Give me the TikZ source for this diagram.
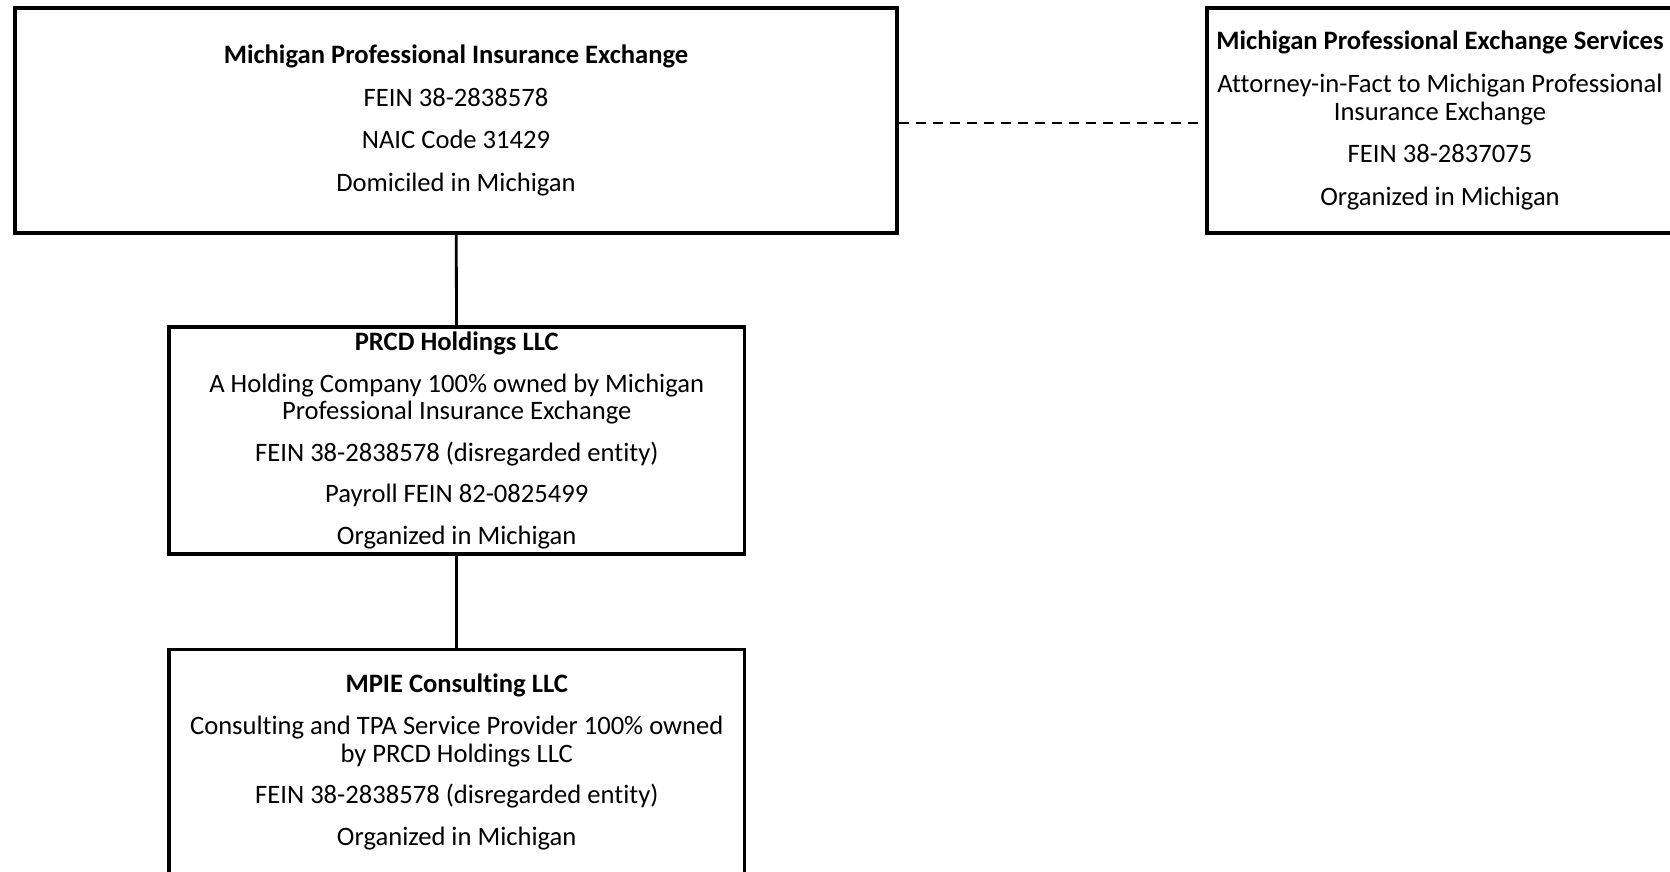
\documentclass[tikz,border=0pt]{standalone}
\usepackage{fontspec}
\setmainfont{Carlito}[Ligatures=NoCommon]
\begin{document}
\begin{tikzpicture}[x=0.5pt,y=-0.5pt,
  entity/.style={draw,line width=1.8pt,align=center,inner sep=0pt,minimum height=112.5pt,font=\fontsize{13.3}{13.8}\selectfont},
  link/.style={line width=1.4pt}]
\useasboundingbox (0,0) rectangle (1670,872);
\node[entity,minimum width=441pt] (MPIE) at (456,120.5) {\textbf{Michigan Professional Insurance Exchange}\\[7.5pt] FEIN 38-2838578\\[7.5pt] NAIC Code 31429\\[7.5pt] Domiciled in Michigan};
\node[entity,minimum width=233pt] (MPES) at (1440,120.5) {\textbf{Michigan Professional Exchange Services}\\[7.5pt] Attorney-in-Fact to Michigan Professional\\ Insurance Exchange\\[7.5pt] FEIN 38-2837075\\[7.5pt] Organized in Michigan};
\node[entity,minimum width=287.75pt,minimum height=113.5pt] (PRCD) at (456.75,440.5) {\textbf{PRCD Holdings LLC}\\[7pt] A Holding Company 100\% owned by Michigan\\ Professional Insurance Exchange\\[7pt] FEIN 38-2838578 (disregarded entity)\\[7pt] Payroll FEIN 82-0825499\\[7pt] Organized in Michigan};
\node[entity,minimum width=287.75pt] (CONS) at (456.75,762) {\textbf{MPIE Consulting LLC}\\[7pt] Consulting and TPA Service Provider 100\% owned\\ by PRCD Holdings LLC\\[7pt] FEIN 38-2838578 (disregarded entity)\\[7pt] Organized in Michigan};
\draw[link] (MPIE) -- (PRCD);
\draw[link] (PRCD) -- (CONS);
\draw[line width=1pt,dash pattern=on 5pt off 3.5pt] ([yshift=-1.5pt]MPIE.east) -- ([yshift=-1.5pt]MPES.west);
\end{tikzpicture}
\end{document}
